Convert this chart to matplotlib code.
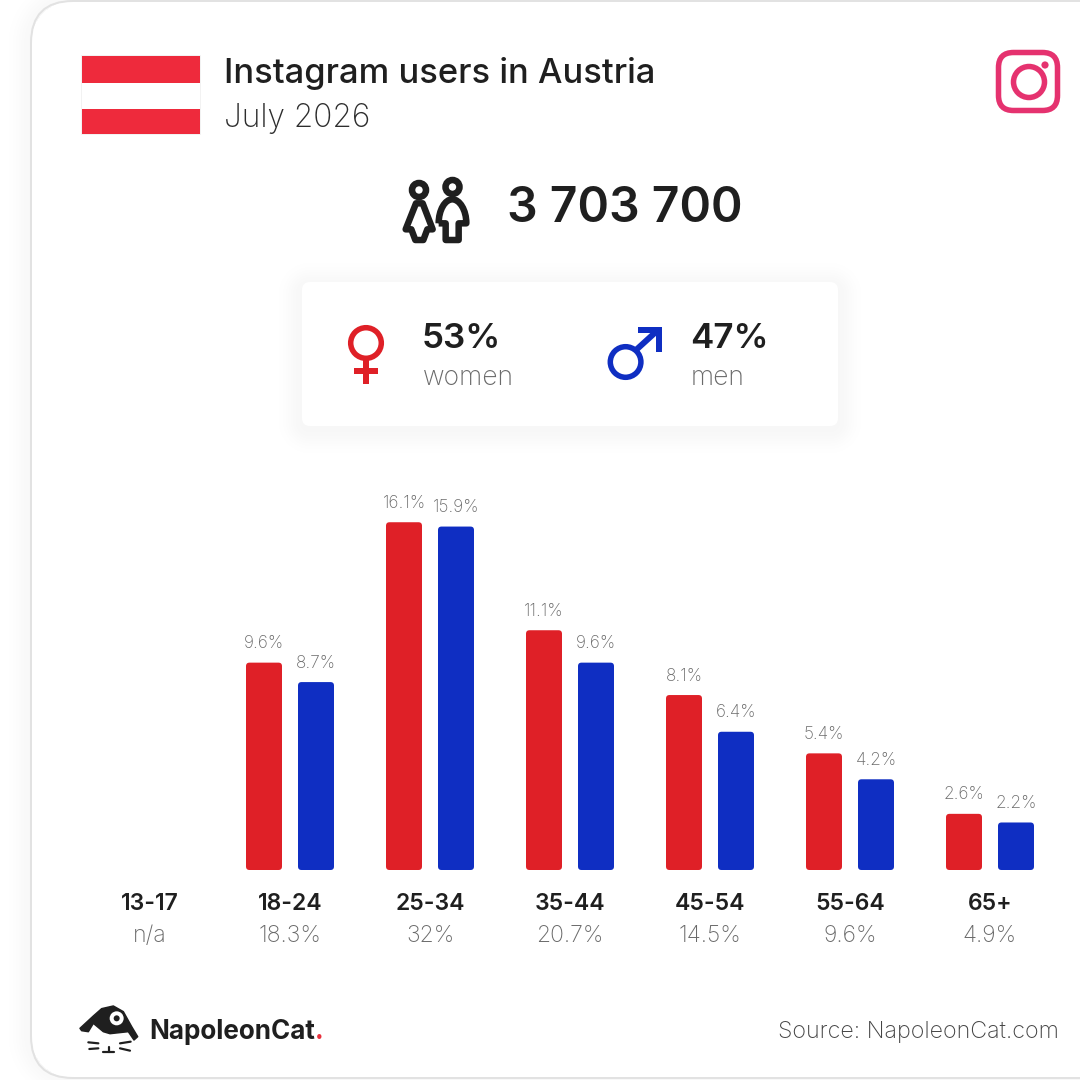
import matplotlib
matplotlib.use("Agg")
import matplotlib.pyplot as plt
import numpy as np
from matplotlib.patches import FancyBboxPatch, Circle, Polygon, Rectangle
from matplotlib.path import Path
from matplotlib.patches import PathPatch

# ---- data ----
age_groups = ["13-17", "18-24", "25-34", "35-44", "45-54", "55-64", "65+"]
age_totals = ["n/a", "18.3%", "32%", "20.7%", "14.5%", "9.6%", "4.9%"]
women = [None, 9.6, 16.1, 11.1, 8.1, 5.4, 2.6]
men = [None, 8.7, 15.9, 9.6, 6.4, 4.2, 2.2]
title = "Instagram users in Austria"
subtitle = "July 2026"
total_users = "3 703 700"
women_share = "53%"
men_share = "47%"
source = "Source: NapoleonCat.com"

RED = "#df2027"
BLUE = "#0f2ec2"
DARK = "#1f1f1f"
GREY = "#6a6a6a"
FLAG = "#ee2a3c"
FONT = ["Inter", "DejaVu Sans"]

fig = plt.figure(figsize=(10.8, 10.8), dpi=100, facecolor="white")
PX = 0.72  # points per pixel

# overlay in pixel coordinates for the card, icons and header
bg = fig.add_axes([0, 0, 1, 1])
bg.axis("off")


def rbox(x0, y0, x1, y1, r, **kw):
    p = FancyBboxPatch((x0, y0), x1 - x0, y1 - y0,
                       boxstyle=f"round,pad=0,rounding_size={r}", **kw)
    bg.add_patch(p)
    return p


def rdist(X, Y, x0, y0, x1, y1, r):
    """Signed distance to a rounded box, used only for the soft shadows."""
    qx = np.abs(X - (x0 + x1) / 2) - (x1 - x0) / 2 + r
    qy = np.abs(Y - (y0 + y1) / 2) - (y1 - y0) / 2 + r
    return np.hypot(np.maximum(qx, 0), np.maximum(qy, 0)) + np.minimum(np.maximum(qx, qy), 0) - r


Y, X = np.mgrid[0:1080, 0:1080] + 0.5
d_card = rdist(X, Y, 31, 1, 1400, 1078, 42)
d_box = rdist(X, Y, 302, 286, 838, 430, 8)
shade = np.ones_like(X)
outside = d_card > 0
shade[outside] -= 0.028 * np.exp(-(d_card[outside] / 16) ** 2)
shade[~outside] -= 0.032 * np.exp(-(np.maximum(d_box[~outside], 0) / 16) ** 2)
bg.imshow(shade, cmap="gray", vmin=0, vmax=1, extent=(0, 1080, 1080, 0), aspect="auto",
          interpolation="nearest", zorder=0)
bg.set_xlim(0, 1080)
bg.set_ylim(1080, 0)

# card outline
rbox(31, 1, 1400, 1078, 42, fc="none", ec="#e2e2e2", lw=2 * PX)

# flag
bg.add_patch(Rectangle((81, 55), 119, 79, fc="white", ec="#f2f2f2", lw=1 * PX))
bg.add_patch(Rectangle((82, 56), 118, 26.5, fc=FLAG, ec="none"))
bg.add_patch(Rectangle((82, 109), 118, 25, fc=FLAG, ec="none"))

# header texts
bg.text(224, 73, title, fontsize=34.5 * PX, family=FONT, weight="medium", color=DARK, va="center", ha="left")
bg.text(224, 118, subtitle, fontsize=31.7 * PX, family=FONT, weight="light", color="#2d2d2d", va="center", ha="left")

# instagram icon
IG = "#e5326f"
rbox(998.5, 52.5, 1057.5, 110.5, 15, fc="none", ec=IG, lw=5.5 * PX)
bg.add_patch(Circle((1029, 82), 15.5, fc="none", ec=IG, lw=5.5 * PX))
bg.add_patch(Circle((1045, 65), 3.6, fc=IG, ec="none"))


def zoomed(points, ox, oy, f=3.0):
    return [(ox + x / f, oy + y / f) for x, y in points]


# people icon
bg.add_patch(Circle((419, 190), 7, fc="none", ec=DARK, lw=6.5 * PX))
bg.add_patch(Circle((452.5, 187), 7, fc="none", ec=DARK, lw=6.5 * PX))
woman = zoomed([(78, 130), (98, 130), (128, 208), (112, 208), (100, 240), (76, 240), (64, 208), (47, 208)], 390, 160)
bg.add_patch(Polygon(woman, closed=True, fc="none", ec=DARK, lw=6.5 * PX, joinstyle="round"))
verts = zoomed([(146, 190), (146, 150), (165, 118), (187, 118), (209, 118), (229, 150), (229, 190),
                (206, 190), (206, 240), (167, 240), (167, 190), (146, 190)], 390, 160)
codes = [Path.MOVETO, Path.CURVE4, Path.CURVE4, Path.CURVE4, Path.CURVE4, Path.CURVE4, Path.CURVE4,
         Path.LINETO, Path.LINETO, Path.LINETO, Path.LINETO, Path.LINETO]
bg.add_patch(PathPatch(Path(verts, codes), fc="none", ec=DARK, lw=6.5 * PX, joinstyle="round"))

bg.text(625, 209, total_users, fontsize=48 * PX, family=FONT, weight="semibold", color=DARK, va="center", ha="center")

# gender card
rbox(302, 282, 838, 426, 8, fc="white", ec="none")

# female symbol
bg.add_patch(Circle((366, 343), 15.3, fc="none", ec=RED, lw=5.5 * PX))
bg.add_patch(Rectangle((363, 359), 6, 25, fc=RED, ec="none"))
bg.add_patch(Rectangle((354, 368), 24, 6, fc=RED, ec="none"))
# male symbol
bg.add_patch(Circle((625.6, 362), 15.3, fc="none", ec=BLUE, lw=5.5 * PX))
bg.plot([636, 658], [350, 330], color=BLUE, lw=6 * PX, solid_capstyle="butt")
bg.add_patch(Polygon([(637.5, 327), (662, 327), (662, 352), (656, 352), (656, 333), (637.5, 333)],
                     closed=True, fc=BLUE, ec="none"))

for x, share, lab in [(423, women_share, "women"), (691, men_share, "men")]:
    bg.text(x - 1, 339, share, fontsize=35 * PX, family=FONT, weight="semibold", color=DARK, va="center", ha="left")
    bg.text(x, 378, lab, fontsize=26.5 * PX, family=FONT, weight="light", color=GREY, va="center", ha="left")

# ---- chart ----
ax = fig.add_axes([80 / 1080, (1080 - 870) / 1080, 980 / 1080, 390 / 1080])
ax.patch.set_alpha(0)
ax.set_xlim(-0.5, 6.5)
ax.set_ylim(0, 390 / 21.6)
for s in ax.spines.values():
    s.set_visible(False)
ax.set_yticks([])
xpos = list(range(len(age_groups)))
ax.set_xticks(xpos)
ax.set_xticklabels(age_groups, fontsize=23 * PX, family=FONT, weight="semibold", color=DARK)
ax.tick_params(axis="x", length=0, pad=23 * PX)

W = 36 / 140
OFF = 26 / 140
ASPECT = 140 / 21.6  # y data units per x data unit for equal pixels
R = 3.5 / 140
for series, sign, color in [(women, -1, RED), (men, 1, BLUE)]:
    for x, v in zip(xpos, series):
        if v is None:
            continue
        left = x + sign * OFF - W / 2
        ax.add_patch(FancyBboxPatch((left, 0), W, v, boxstyle=f"round,pad=0,rounding_size={R}",
                                    mutation_aspect=ASPECT, fc=color, ec="none", clip_on=False))
        ax.annotate(f"{v}%", (x + sign * OFF, v), xytext=(0, 10.5 * PX), textcoords="offset points",
                    ha="center", va="bottom", fontsize=17.2 * PX, family=FONT, weight="light", color=GREY)
for x, t in zip(xpos, age_totals):
    ax.annotate(t, (x, 0), xycoords=("data", "axes fraction"), xytext=(0, -66 * PX), textcoords="offset points",
                ha="center", va="center", fontsize=23 * PX, family=FONT, weight="light", color=GREY)

# ---- footer ----
cat = zoomed([(60, 115), (100, 78), (125, 56), (160, 48), (190, 65), (215, 110), (233, 140), (222, 150),
              (205, 125), (150, 131), (130, 125), (100, 100), (85, 125), (65, 122)], 60, 990)
bg.add_patch(Polygon(cat, closed=True, fc=DARK, ec=DARK, lw=1.5 * PX, joinstyle="round", zorder=3))
bg.add_patch(Circle((60 + 170 / 3, 990 + 85 / 3), 7, fc="white", ec="none", zorder=4))
bg.add_patch(Circle((60 + 170 / 3, 990 + 85 / 3), 3, fc=DARK, ec="none", zorder=5))
for seg in [[(85, 157), (115, 160)], [(88, 177), (115, 175)], [(180, 160), (212, 155)], [(180, 175), (210, 182)],
            [(146, 170), (146, 187)], [(130, 187), (162, 187)]]:
    pts = zoomed(seg, 60, 990)
    bg.plot([p[0] for p in pts], [p[1] for p in pts], color=DARK, lw=2.2 * PX, solid_capstyle="round", zorder=3)
t = bg.text(149, 1032, "NapoleonCat", fontsize=26 * PX, family=FONT, weight="bold", color=DARK, va="center", ha="left")
bg.annotate(".", xy=(1, 0), xycoords=t, xytext=(0, 0), textcoords="offset points", fontsize=26 * PX,
            family=FONT, weight="bold", color="#e8303c", va="bottom", ha="left")
bg.text(1059, 1032, source, fontsize=23.3 * PX, family=FONT, weight="light", color="#444444", va="center", ha="right")

fig.savefig("out.png", dpi=100, facecolor="white")
